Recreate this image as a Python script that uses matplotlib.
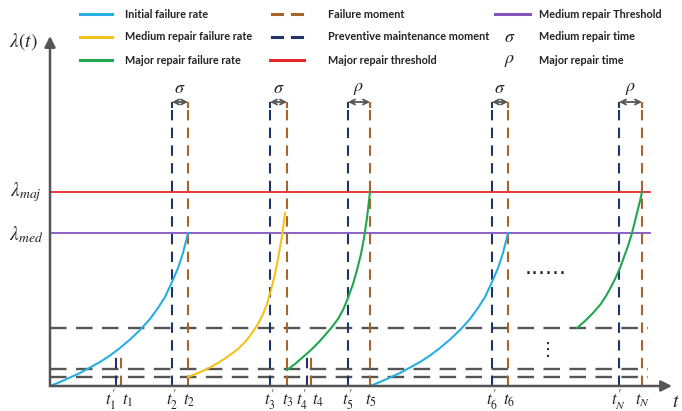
import matplotlib
matplotlib.use("Agg")
import matplotlib.pyplot as plt

plt.rcParams['mathtext.fontset'] = 'stix'

# ---------------- data (schematic units) ----------------
t_prime = [66, 122, 220, 257, 298, 442, 569]      # preventive maintenance moments
t_fail = [71, 138, 237, 261, 320, 458, 592]       # failure moments
t_prime_labels = [r"$t_{1}^{\prime}$", r"$t_{2}^{\prime}$", r"$t_{3}^{\prime}$", r"$t_{4}^{\prime}$",
                  r"$t_{5}^{\prime}$", r"$t_{6}^{\prime}$", r"$t_{N}^{\prime}$"]
t_fail_labels = ["$t_1$", "$t_2$", "$t_3$", "$t_4$", "$t_5$", "$t_6$", "$t_N$"]
tall_flags = [False, True, True, False, True, True, True]
repair_symbols = [None, r"$\sigma$", r"$\sigma$", None, r"$\rho$", r"$\sigma$", r"$\rho$"]

lam_maj = 194
lam_med = 153
dashed_levels = [58, 17, 9]
short_height = 34
tall_height = 283

blue1_x = [0, 10, 20, 30, 40, 50, 60, 70, 80, 90, 100, 108, 115, 122, 128, 133, 138]
blue1_y = [0, 4, 8.5, 13, 18.5, 24, 30.5, 38, 46.5, 56, 67, 78, 89, 104, 118, 133, 153]
yellow_x = [138, 148, 158, 168, 178, 188, 196, 202, 208, 213, 217, 221, 225, 228, 231, 233, 235]
yellow_y = [9, 13, 17.5, 23, 29.5, 37, 45, 53, 62, 72, 82, 96, 112, 127, 144, 157, 173]
green1_x = [237, 245, 253, 261, 269, 276, 282, 288, 293, 298, 303, 307, 311, 314, 317, 320]
green1_y = [16, 22, 29, 36, 44, 52, 59, 67, 76, 88, 102, 116, 132, 148, 168, 194]
blue2_x = [320, 330, 340, 350, 360, 370, 380, 390, 400, 410, 420, 428, 435, 442, 448, 453, 458]
blue2_y = [0, 4, 8.5, 13, 18.5, 24, 30.5, 38, 46.5, 56, 67, 78, 89, 104, 118, 133, 153]
green2_x = [527, 535, 543, 550, 556, 561, 566, 570, 574, 578, 582, 585, 588, 590, 592]
green2_y = [58, 65, 73, 81, 90, 99, 109, 118, 129, 140, 153, 165, 177, 185, 194]

legend_labels = [
    ["Initial failure rate", "Medium repair failure rate", "Major repair failure rate"],
    ["Failure moment", "Preventive maintenance moment", "Major repair threshold"],
    ["Medium repair Threshold", "Medium repair time", "Major repair time"],
]

# ---------------- styles ----------------
C_BLUE = "#27aee3"
C_YELLOW = "#f3c21b"
C_GREEN = "#1fa64e"
C_RED = "#e8262a"
C_PURPLE = "#8455bd"
C_NAVY = "#1f3568"
C_BROWN = "#a8642a"
C_GRAY = "#555555"
C_TEXT = "#222222"

fig = plt.figure(figsize=(6.82, 4.11), dpi=100)
ax = fig.add_axes([0, 0, 1, 1])
ax.set_xlim(-50, 632)
ax.set_ylim(-25, 386)
ax.axis('off')

x_end = 598

# threshold lines
ax.plot([0, x_end + 2], [lam_maj, lam_maj], color=C_RED, lw=1.3, zorder=2)
ax.plot([0, x_end + 2], [lam_med, lam_med], color=C_PURPLE, lw=1.3, zorder=2)

# dashed horizontal levels
for lv in dashed_levels:
    ax.plot([0, x_end], [lv, lv], color=C_GRAY, lw=1.7, dashes=(7, 4), zorder=2)

# vertical lines
for tp, tf, tall, sym in zip(t_prime, t_fail, tall_flags, repair_symbols):
    h = tall_height if tall else short_height
    ax.plot([tp, tp], [0, h], color=C_NAVY, lw=1.5, dashes=(5, 3.5), zorder=3)
    ax.plot([tf, tf], [0, h], color=C_BROWN, lw=1.5, dashes=(5, 3.5), zorder=3)
    if tall:
        ax.plot([tp, tp], [h - 4, h], color=C_NAVY, lw=1.5, zorder=3)
        ax.plot([tf, tf], [h - 4, h], color=C_BROWN, lw=1.5, zorder=3)
        ax.annotate("", xy=(tf, h + 1), xytext=(tp, h + 1),
                    arrowprops=dict(arrowstyle="<->", color=C_GRAY, lw=1.3,
                                    shrinkA=0, shrinkB=0, mutation_scale=9))
        ax.text((tp + tf) / 2, h + 6, sym, ha='center', va='bottom',
                fontsize=13, color=C_TEXT)

# failure rate curves
ax.plot(blue1_x, blue1_y, color=C_BLUE, lw=1.5, zorder=4)
ax.plot(yellow_x, yellow_y, color=C_YELLOW, lw=1.5, zorder=4)
ax.plot(green1_x, green1_y, color=C_GREEN, lw=1.5, zorder=4)
ax.plot(blue2_x, blue2_y, color=C_BLUE, lw=1.5, zorder=4)
ax.plot(green2_x, green2_y, color=C_GREEN, lw=1.5, zorder=4)

# axes with arrows
ax.annotate("", xy=(622, 0), xytext=(0, 0),
            arrowprops=dict(arrowstyle="-|>", color=C_GRAY, lw=1.8,
                            shrinkA=0, shrinkB=0, mutation_scale=16), zorder=5)
ax.annotate("", xy=(0, 350), xytext=(0, 0),
            arrowprops=dict(arrowstyle="-|>", color=C_GRAY, lw=1.8,
                            shrinkA=0, shrinkB=0, mutation_scale=16), zorder=5)

# axis labels
ax.text(-27, 344, r"$\lambda(t)$", ha='center', va='center', fontsize=14, color=C_TEXT)
ax.text(626, -15, r"$t$", ha='center', va='center', fontsize=14, color=C_TEXT)
ax.text(-24, 194, r"$\lambda_{maj}$", ha='center', va='center', fontsize=14, color=C_TEXT)
ax.text(-24, 151, r"$\lambda_{med}$", ha='center', va='center', fontsize=14, color=C_TEXT)

# tick labels
for tp, tf, lp, lf in zip(t_prime, t_fail, t_prime_labels, t_fail_labels):
    close = (tf - tp) < 10
    xp = tp - 5 if close else tp
    xf = tf + 7 if close else tf + 1
    ax.text(xp, -14, lp, ha='center', va='center', fontsize=12, color=C_TEXT)
    ax.text(xf, -14, lf, ha='center', va='center', fontsize=12, color=C_TEXT)

# dots
ax.text(496, 118, "......", ha='center', va='center', fontsize=16, color=C_TEXT)
ax.text(498, 36, "\u22ee", ha='center', va='center', fontsize=13, color=C_TEXT)

# ---------------- legend (manual, three columns) ----------------
row_y = [372, 349, 326]
lfont = dict(fontsize=7.8, fontweight='bold', family='Lato', color=C_TEXT,
             va='center', ha='left')
col1_colors = [C_BLUE, C_YELLOW, C_GREEN]
for y, c, lab in zip(row_y, col1_colors, legend_labels[0]):
    ax.plot([30, 62], [y, y], color=c, lw=2.2)
    ax.text(75, y, lab, **lfont)

col2_styles = [(C_BROWN, True), (C_NAVY, True), (C_RED, False)]
for y, (c, dashed), lab in zip(row_y, col2_styles, legend_labels[1]):
    if dashed:
        ax.plot([222, 232], [y, y], color=c, lw=2.2)
        ax.plot([242, 252], [y, y], color=c, lw=2.2)
    else:
        ax.plot([220, 254], [y, y], color=c, lw=2.2)
    ax.text(278, y, lab, **lfont)

ax.plot([445, 480], [row_y[0], row_y[0]], color=C_PURPLE, lw=2.2)
ax.text(460, row_y[1], r"$\sigma$", ha='center', va='center', fontsize=13, color=C_TEXT)
ax.text(460, row_y[2], r"$\rho$", ha='center', va='center', fontsize=13, color=C_TEXT)
for y, lab in zip(row_y, legend_labels[2]):
    ax.text(489, y, lab, **lfont)

fig.savefig("out.png", dpi=100)
